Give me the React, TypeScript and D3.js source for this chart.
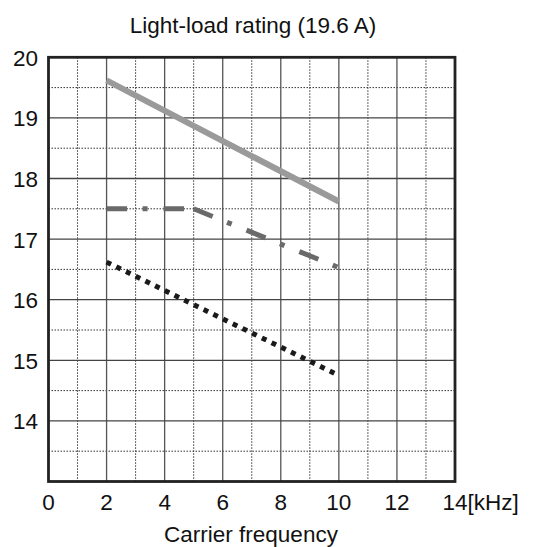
import React from "react";
import * as d3 from "d3";

// carrier frequency [kHz] vs output current [A]
const solidX = [2, 10];
const solidY = [19.62, 17.62];

const dashDotX = [2, 5, 10];
const dashDotY = [17.5, 17.5, 16.53];

const dottedX = [2, 10];
const dottedY = [16.62, 14.75];

const xTicks = [0, 2, 4, 6, 8, 10, 12, 14];
const yTicks = [14, 15, 16, 17, 18, 19, 20];

const W = 549;
const H = 547;
const margin = { top: 57.3, right: 94, bottom: 65.5, left: 48.5 };
const FONT = "'Liberation Sans', Arial, sans-serif";
const FS = 22.5;

export default function App() {
  const x = d3.scaleLinear().domain([0, 14]).range([margin.left, W - margin.right]);
  const y = d3.scaleLinear().domain([13, 20]).range([H - margin.bottom, margin.top]);

  const line = d3
    .line<[number, number]>()
    .x((d) => x(d[0]))
    .y((d) => y(d[1]));

  const zip = (xs: number[], ys: number[]) => xs.map((v, i) => [v, ys[i]] as [number, number]);

  const [x0, x1] = x.range();
  const [y0, y1] = y.range();

  const minorX = d3.range(1, 14, 2);
  const majorX = d3.range(2, 14, 2);
  const minorY = d3.range(13.5, 20, 1);
  const majorY = d3.range(14, 20, 1);

  // dash-dot curve is drawn piecewise so each segment restarts its pattern
  const dashDotPts = zip(dashDotX, dashDotY);
  const dashDotSegs = d3.pairs(dashDotPts);

  return (
    <svg
      width={W}
      height={H}
      style={{ position: "absolute", left: 0, top: 0, background: "#fff" }}
      fontFamily={FONT}
    >
      <text x={253} y={32.5} fontSize={FS} textAnchor="middle" fill="#111">
        Light-load rating (19.6 A)
      </text>

      {/* dotted minor grid */}
      {minorX.map((v) => (
        <line key={"mx" + v} x1={x(v)} x2={x(v)} y1={y1} y2={y0} stroke="#333" strokeWidth={1} strokeDasharray="1.5,1.5" />
      ))}
      {minorY.map((v) => (
        <line key={"my" + v} x1={x0} x2={x1} y1={y(v)} y2={y(v)} stroke="#333" strokeWidth={1} strokeDasharray="1.5,1.5" />
      ))}
      {/* solid major grid */}
      {majorX.map((v) => (
        <line key={"Mx" + v} x1={x(v)} x2={x(v)} y1={y1} y2={y0} stroke="#555" strokeWidth={1.3} />
      ))}
      {majorY.map((v) => (
        <line key={"My" + v} x1={x0} x2={x1} y1={y(v)} y2={y(v)} stroke="#444" strokeWidth={1.3} />
      ))}

      <rect x={x0} y={y1} width={x1 - x0} height={y0 - y1} fill="none" stroke="#222" strokeWidth={2.8} />

      {/* series */}
      <path d={line(zip(solidX, solidY)) || ""} fill="none" stroke="#9a9a9a" strokeWidth={6} />
      {dashDotSegs.map((seg, i) => (
        <path
          key={"dd" + i}
          d={line(seg) || ""}
          fill="none"
          stroke="#6a6a6a"
          strokeWidth={5}
          strokeDasharray="20.5,15.5,5,16"
        />
      ))}
      <path
        d={line(zip(dottedX, dottedY)) || ""}
        fill="none"
        stroke="#1a1a1a"
        strokeWidth={5}
        strokeDasharray="5,5.8"
      />

      {/* y labels */}
      {yTicks.map((v) => (
        <text key={"yl" + v} x={38} y={y(v) + 8.5} fontSize={FS} textAnchor="end" fill="#111">
          {v}
        </text>
      ))}
      {/* x labels */}
      {xTicks.map((v) => (
        <text key={"xl" + v} x={x(v)} y={510} fontSize={FS} textAnchor="middle" fill="#111">
          {v}
        </text>
      ))}
      <text x={x(14) + 12.5} y={510} fontSize={FS} fill="#111">
        [kHz]
      </text>
      <text x={251} y={541.5} fontSize={FS} textAnchor="middle" fill="#111">
        Carrier frequency
      </text>
    </svg>
  );
}
